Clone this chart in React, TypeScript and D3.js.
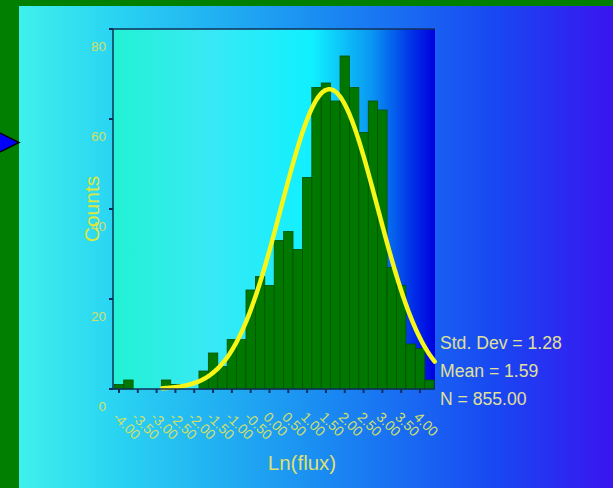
import React from "react";
import * as d3 from "d3";

// histogram of Ln(flux), bins of 0.25 centred on -4.00 ... 4.25
const binCenters = d3.range(34).map((i) => -4 + i * 0.25);
const counts = [
  1, 2, 0, 0, 0, 2, 1, 0, 0, 4, 8, 5, 11, 11, 22, 25, 23, 33, 35, 31, 47,
  67, 68, 64, 74, 67, 57, 64, 62, 27, 23, 10, 9, 2,
];
const binWidth = 0.25;
const xTicks = d3.range(17).map((i) => -4 + i * 0.5);
const yTicks = [0, 20, 40, 60, 80];
const statLabels = ["Std. Dev = 1.28", "Mean = 1.59", "N = 855.00"];
const mean = 1.59;
const stdDev = 1.28;
const total = 855;

const W = 613, H = 488;
const plot = { left: 113, right: 435, top: 29, bottom: 389 };

export default function App() {
  const x = d3.scaleLinear().domain([-4, 4]).range([119, 420]);
  const y = d3.scaleLinear().domain([0, 80]).range([plot.bottom, plot.top]);
  const bw = x(binWidth) - x(0);

  // fitted normal curve from the stats shown on the chart
  const normal = (v: number) =>
    (total * binWidth) / (stdDev * Math.sqrt(2 * Math.PI)) *
    Math.exp(-0.5 * ((v - mean) / stdDev) ** 2);
  const curveX = d3.range(-2.85, x.invert(plot.right) + 0.001, 0.02);
  const line = d3.line<number>().x((v) => x(v)).y((v) => y(normal(v))).curve(d3.curveBasis);

  const labelColor = "#d0e068";
  const font = "Liberation Sans, Arial, sans-serif";

  return (
    <svg width={W} height={H} style={{ position: "absolute", left: 0, top: 0 }} fontFamily={font}>
      <defs>
        <linearGradient id="panel" gradientUnits="userSpaceOnUse" x1={19} y1={0} x2={W} y2={0}>
          <stop offset="0" stopColor="#40f0ec" />
          <stop offset="0.15" stopColor="#2ad6f2" />
          <stop offset="0.5" stopColor="#1a8ef2" />
          <stop offset="0.8" stopColor="#1848f2" />
          <stop offset="1" stopColor="#3a14f0" />
        </linearGradient>
        <linearGradient id="plotbg" gradientUnits="userSpaceOnUse" x1={plot.left} y1={0} x2={plot.right} y2={0}>
          <stop offset="0" stopColor="#22f2d4" />
          <stop offset="0.3" stopColor="#38e8f4" />
          <stop offset="0.62" stopColor="#10f0ff" />
          <stop offset="0.8" stopColor="#0a98f2" />
          <stop offset="0.93" stopColor="#0030e8" />
          <stop offset="1" stopColor="#0000e0" />
        </linearGradient>
      </defs>
      <rect width={W} height={H} fill="#007f00" />
      <rect x={19} y={6} width={W - 19} height={H - 6} fill="url(#panel)" />
      <path d="M -6 130 L 19 142.5 L -6 155 Z" fill="#0000ff" stroke="#000" strokeWidth={1.5} />

      <rect x={plot.left} y={plot.top} width={plot.right - plot.left} height={plot.bottom - plot.top} fill="url(#plotbg)" />

      {counts.map((c, i) =>
        c > 0 ? (
          <rect key={i} x={x(binCenters[i]) - bw / 2} y={y(c)} width={bw} height={y(0) - y(c)}
            fill="#007800" stroke="#005200" strokeWidth={0.8} />
        ) : null
      )}

      <path d={line(curveX) || ""} fill="none" stroke="#f6f618" strokeWidth={4.5} strokeLinecap="round" />

      {/* axes */}
      <line x1={plot.left} x2={plot.right} y1={plot.top} y2={plot.top} stroke="#10305a" strokeWidth={1.5} />
      <line x1={plot.left} x2={plot.left} y1={plot.top} y2={plot.bottom} stroke="#10305a" strokeWidth={1.5} />
      <line x1={plot.left} x2={plot.right} y1={plot.bottom} y2={plot.bottom} stroke="#10305a" strokeWidth={1.5} />

      {yTicks.map((t) => (
        <g key={t}>
          <line x1={plot.left - 4} x2={plot.left} y1={y(t)} y2={y(t)} stroke="#10305a" strokeWidth={2} />
          <text x={106} y={y(t) + 17} textAnchor="end" dominantBaseline="central" fontSize={13.5} fill={labelColor}>
            {t}
          </text>
        </g>
      ))}

      {xTicks.map((t) => (
        <g key={t}>
          <line x1={x(t)} x2={x(t)} y1={plot.bottom} y2={plot.bottom + 4} stroke="#10305a" strokeWidth={2} />
          <text transform={`translate(${x(t) - 7},${418}) rotate(45)`} fontSize={14} fill={labelColor}>
            {t.toFixed(2)}
          </text>
        </g>
      ))}

      <text transform="translate(99,209) rotate(-90)" textAnchor="middle" fontSize={21} fill="#d8e840">
        Counts
      </text>
      <text x={302} y={470} textAnchor="middle" fontSize={20.5} fill="#dfe070">
        Ln(flux)
      </text>

      {statLabels.map((s, i) => (
        <text key={s} x={440} y={349 + i * 28} fontSize={17.6} fill="#e0e098">
          {s}
        </text>
      ))}
    </svg>
  );
}
